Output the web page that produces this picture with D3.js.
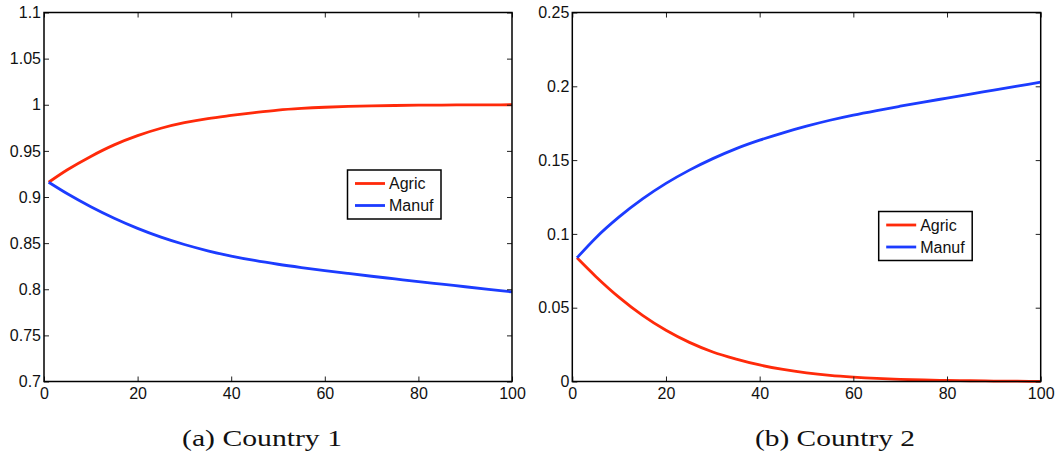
<!DOCTYPE html>
<html>
<head>
<meta charset="utf-8">
<script src="https://cdn.jsdelivr.net/npm/d3@7"></script>
<style>
  body { margin: 0; background: white; }
  svg text { font-family: "Liberation Sans", Arial, sans-serif; }
</style>
</head>
<body>
<div id="chart"></div>
<script>
// time steps (x) shared by every series
const steps = [1, 5, 10, 15, 20, 25, 30, 35, 40, 45, 50, 55, 60, 65, 70, 75, 80, 85, 90, 95, 100];

// Country 1
const agric1 = [0.916, 0.9295, 0.944, 0.9565, 0.9665, 0.9745, 0.9805, 0.985, 0.9884, 0.9915, 0.9942,
  0.996, 0.9973, 0.9982, 0.9988, 0.9992, 0.9995, 0.9997, 0.9998, 0.9999, 1.0];
const manuf1 = [0.916, 0.9035, 0.8895, 0.877, 0.866, 0.8565, 0.8485, 0.8417, 0.836, 0.8312, 0.8271,
  0.8235, 0.8202, 0.8171, 0.8141, 0.8112, 0.8083, 0.8055, 0.8027, 0.7999, 0.7971];

// Country 2
const agric2 = [0.0838, 0.0712, 0.057, 0.0448, 0.0347, 0.0265, 0.02, 0.0152, 0.0112, 0.0082, 0.0059,
  0.0042, 0.003, 0.0021, 0.0015, 0.001, 0.0007, 0.0005, 0.0003, 0.0002, 0.0001];
const manuf2 = [0.0838, 0.0973, 0.1115, 0.1237, 0.1342, 0.1432, 0.151, 0.1578, 0.1635, 0.1685, 0.173,
  0.177, 0.1805, 0.1836, 0.1865, 0.1893, 0.192, 0.1947, 0.1974, 0.2001, 0.2028];

const seriesNames = ["Agric", "Manuf"];
const xTicks = [0, 20, 40, 60, 80, 100];
const yTicks1 = [0.7, 0.75, 0.8, 0.85, 0.9, 0.95, 1, 1.05, 1.1];
const yTicks2 = [0, 0.05, 0.1, 0.15, 0.2, 0.25];
const captions = ["(a)  Country 1", "(b)  Country 2"];

const colors = d3.scaleOrdinal().domain(seriesNames).range(["#ff2a0a", "#1c3cff"]);

const svg = d3.select("#chart").append("svg")
  .attr("width", 1056)
  .attr("height", 457)
  .style("background", "white");

// helper function to draw one panel
function drawPanel(box, series, yTicks, legendPos, caption, captionX) {
  const x = d3.scaleLinear().domain([0, 100]).range([box.left, box.right]);
  const y = d3.scaleLinear().domain([yTicks[0], yTicks[yTicks.length - 1]]).range([box.bottom, box.top]);

  const g = svg.append("g");

  // lines
  const line = d3.line()
    .x(d => x(d[0]))
    .y(d => y(d[1]))
    .curve(d3.curveMonotoneX);

  series.forEach((vals, i) => {
    g.append("path")
      .datum(steps.map((s, j) => [s, vals[j]]))
      .attr("d", line)
      .attr("fill", "none")
      .attr("stroke", colors(seriesNames[i]))
      .attr("stroke-width", 2.8);
  });

  // axes, ticks pointing inward on all four sides
  const fmt = v => String(v);
  g.append("g")
    .attr("transform", "translate(0," + box.bottom + ")")
    .call(d3.axisBottom(x).tickValues(xTicks).tickFormat(fmt).tickSizeInner(-5).tickSizeOuter(0).tickPadding(6));
  g.append("g")
    .attr("transform", "translate(" + box.left + ",0)")
    .call(d3.axisLeft(y).tickValues(yTicks).tickFormat(fmt).tickSizeInner(-5).tickSizeOuter(0).tickPadding(3));
  g.append("g")
    .attr("transform", "translate(0," + box.top + ")")
    .call(d3.axisTop(x).tickValues(xTicks).tickFormat("").tickSizeInner(-5).tickSizeOuter(0));
  g.append("g")
    .attr("transform", "translate(" + box.right + ",0)")
    .call(d3.axisRight(y).tickValues(yTicks).tickFormat("").tickSizeInner(-5).tickSizeOuter(0));

  g.selectAll(".domain").remove();
  g.selectAll(".tick line").attr("stroke", "#222").attr("stroke-width", 1);
  g.selectAll(".tick text").attr("font-size", "16px").attr("fill", "#111")
    .style("font-family", "'Liberation Sans', Arial, sans-serif");

  // axes box
  g.append("rect")
    .attr("x", box.left)
    .attr("y", box.top)
    .attr("width", box.right - box.left)
    .attr("height", box.bottom - box.top)
    .attr("fill", "none")
    .attr("stroke", "black")
    .attr("stroke-width", 1.5);

  // legend
  const lg = g.append("g").attr("transform", "translate(" + legendPos[0] + "," + legendPos[1] + ")");
  lg.append("rect")
    .attr("x", 0).attr("y", 0)
    .attr("width", 93.5).attr("height", 49)
    .attr("fill", "white")
    .attr("stroke", "black")
    .attr("stroke-width", 1.5);
  seriesNames.forEach((name, i) => {
    lg.append("line")
      .attr("x1", 7.5).attr("x2", 37.5)
      .attr("y1", 13.5 + i * 22).attr("y2", 13.5 + i * 22)
      .attr("stroke", colors(name))
      .attr("stroke-width", 2.8);
    lg.append("text")
      .attr("x", 41.5)
      .attr("y", 19 + i * 22)
      .attr("font-size", "16px")
      .attr("fill", "#111")
      .text(name);
  });

  // caption under the panel
  svg.append("text")
    .attr("x", captionX)
    .attr("y", 446)
    .attr("text-anchor", "middle")
    .attr("textLength", 160)
    .attr("lengthAdjust", "spacingAndGlyphs")
    .style("font-family", "'Liberation Serif', 'DejaVu Serif', serif")
    .style("font-size", "23px")
    .attr("fill", "#111")
    .text(caption);
}

drawPanel({ left: 44, right: 512, top: 12.5, bottom: 381.5 }, [agric1, manuf1], yTicks1, [347.5, 170], captions[0], 262);
drawPanel({ left: 572.3, right: 1040.7, top: 12.5, bottom: 381.5 }, [agric2, manuf2], yTicks2, [878.7, 211.5], captions[1], 835);
</script>
</body>
</html>
